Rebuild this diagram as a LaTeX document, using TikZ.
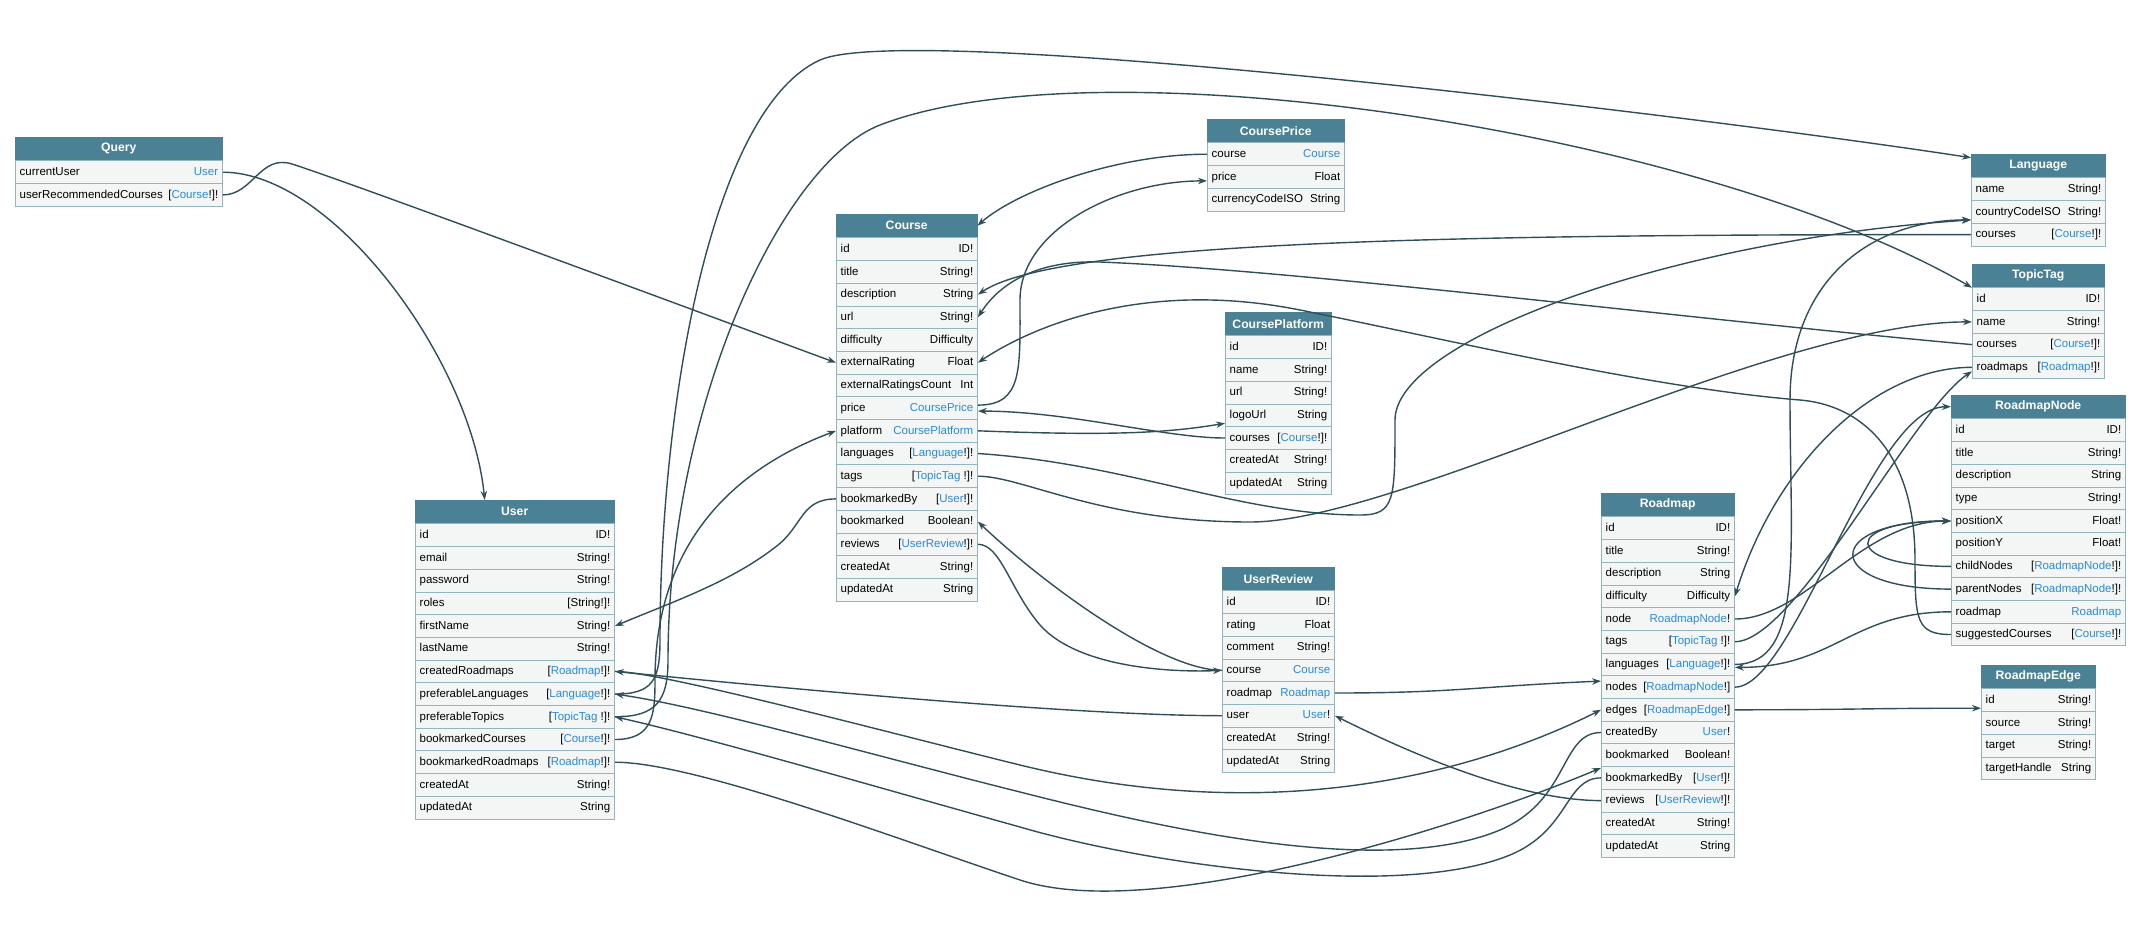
\documentclass[tikz,border=0pt]{standalone}
\usepackage{fontspec}
\setmainfont{Liberation Sans}
\usetikzlibrary{arrows.meta}
\definecolor{headteal}{RGB}{74,129,148}
\definecolor{rowgrey}{RGB}{244,246,246}
\definecolor{rowline}{RGB}{148,180,190}
\definecolor{typeblue}{RGB}{42,138,218}
\definecolor{linkslate}{RGB}{48,78,88}
\newcommand{\ty}[1]{\textcolor{typeblue}{#1}}
% one GraphQL type: name, title, x, y, width, field/type list
\newcommand{\gqltable}[6]{%
  \node[gqlhead, minimum width=#5pt] (#1) at (#3,#4) {#2};
  \foreach \fname/\ftype [count=\i from 0] in {#6} {
    \node[gqlrow, minimum width=#5pt] (#1-\fname) at ([yshift={-\i*22.7pt}]#1.south west) {};
    \node[gqltext, anchor=west] at (#1-\fname.west) {\fname};
    \node[gqltext, anchor=east] at (#1-\fname.east) {\ftype};
  }
}
\begin{document}
\begin{tikzpicture}[x=1pt, y=-1pt,
  gqlhead/.style={anchor=north west, fill=headteal, draw=headteal, text=white, minimum height=23pt, inner sep=0pt, font=\fontsize{12.2}{14}\selectfont\bfseries},
  gqlrow/.style={anchor=north west, fill=rowgrey, draw=rowline, line width=0.9pt, minimum height=22.7pt, inner sep=0pt},
  gqltext/.style={inner xsep=4.5pt, inner ysep=0pt, text height=9pt, text depth=2.5pt, font=\fontsize{11.5}{14}\selectfont},
  link/.style={draw=linkslate, line width=1.4pt, -{Stealth[length=9pt, width=6.5pt]}},
]
\useasboundingbox (0,0) rectangle (2138,935);

\gqltable{Query}{Query}{15}{137}{207}{currentUser/\ty{User}, userRecommendedCourses/{[\ty{Course}!]!}}
\gqltable{Course}{Course}{836}{214}{141}{id/ID!, title/String!, description/String, url/String!, difficulty/Difficulty, externalRating/Float, externalRatingsCount/Int, price/\ty{CoursePrice}, platform/\ty{CoursePlatform}, languages/{[\ty{Language}!]!}, tags/{[\ty{TopicTag} !]!}, bookmarkedBy/{[\ty{User}!]!}, bookmarked/Boolean!, reviews/{[\ty{UserReview}!]!}, createdAt/String!, updatedAt/String}
\gqltable{CoursePrice}{CoursePrice}{1207}{119}{137}{course/\ty{Course}, price/Float, currencyCodeISO/String}
\gqltable{CoursePlatform}{CoursePlatform}{1225}{312}{106}{id/ID!, name/String!, url/String!, logoUrl/String, courses/{[\ty{Course}!]!}, createdAt/String!, updatedAt/String}
\gqltable{User}{User}{415}{500}{199}{id/ID!, email/String!, password/String!, roles/{[String!]!}, firstName/String!, lastName/String!, createdRoadmaps/{[\ty{Roadmap}!]!}, preferableLanguages/{[\ty{Language}!]!}, preferableTopics/{[\ty{TopicTag} !]!}, bookmarkedCourses/{[\ty{Course}!]!}, bookmarkedRoadmaps/{[\ty{Roadmap}!]!}, createdAt/String!, updatedAt/String}
\gqltable{UserReview}{UserReview}{1222}{567}{112}{id/ID!, rating/Float, comment/String!, course/\ty{Course}, roadmap/\ty{Roadmap}, user/{\ty{User}!}, createdAt/String!, updatedAt/String}
\gqltable{Roadmap}{Roadmap}{1601}{493}{133}{id/ID!, title/String!, description/String, difficulty/Difficulty, node/{\ty{RoadmapNode}!}, tags/{[\ty{TopicTag} !]!}, languages/{[\ty{Language}!]!}, nodes/{[\ty{RoadmapNode}!]}, edges/{[\ty{RoadmapEdge}!]}, createdBy/{\ty{User}!}, bookmarked/Boolean!, bookmarkedBy/{[\ty{User}!]!}, reviews/{[\ty{UserReview}!]!}, createdAt/String!, updatedAt/String}
\gqltable{Language}{Language}{1971}{154}{134}{name/String!, countryCodeISO/String!, courses/{[\ty{Course}!]!}}
\gqltable{TopicTag}{TopicTag}{1972}{264}{132}{id/ID!, name/String!, courses/{[\ty{Course}!]!}, roadmaps/{[\ty{Roadmap}!]!}}
\gqltable{RoadmapNode}{RoadmapNode}{1951}{395}{174}{id/ID!, title/String!, description/String, type/String!, positionX/Float!, positionY/Float!, childNodes/{[\ty{RoadmapNode}!]!}, parentNodes/{[\ty{RoadmapNode}!]!}, roadmap/\ty{Roadmap}, suggestedCourses/{[\ty{Course}!]!}}
\gqltable{RoadmapEdge}{RoadmapEdge}{1981}{665}{114}{id/String!, source/String!, target/String!, targetHandle/String}

% Query links
\draw[link] (Query-currentUser.east) .. controls +(110,0) and +(-14,-140) .. ([xshift=-30pt]User.north);
\draw[link] (Query-userRecommendedCourses.east) .. controls +(30,0) and +(-32,-10) .. (292,164) .. controls +(60,19) and +(-60,-22) .. (Course-externalRating.west);

% Course links
\draw[link] ([yshift=3pt]Course-price.east) .. controls +(45,0) and +(0,70) .. (1020,300) .. controls +(0,-70) and +(-90,0) .. ([yshift=-4pt]CoursePrice-price.west);
\draw[link] (CoursePrice-course.west) .. controls +(-90,0) and +(40,-35) .. (Course.east);
\draw[link] (Course-platform.east) .. controls +(130,5) and +(-60,10) .. ([yshift=-8pt]CoursePlatform-logoUrl.west);
\draw[link] (CoursePlatform-courses.west) .. controls +(-60,0) and +(90,0) .. ([yshift=-3pt]Course-price.east);
\draw[link] (Course-languages.east) .. controls +(150,10) and +(-120,0) .. (1360,515) .. controls +(35,0) and +(0,80) .. (1395,420) .. controls +(0,-80) and +(-300,20) .. ([yshift=-8pt]Language-countryCodeISO.west);
\draw[link] (Course-tags.east) .. controls +(45,0) and +(-150,0) .. (1250,522) .. controls +(150,0) and +(-200,0) .. (TopicTag-name.west);
\draw[link] (Course-bookmarkedBy.west) .. controls +(-35,0) and +(25,-20) .. (778,545) .. controls +(-45,36) and +(60,-25) .. (User-firstName.east);
\draw[link] (Course-reviews.east) .. controls +(23,0) and +(-30,-35) .. (1040,625) .. controls +(40,45) and +(-42,2) .. (UserReview-course.west);
\draw[link] (UserReview-course.west) .. controls +(-62,0) and +(63,60) .. (Course-bookmarked.east);

% UserReview links
\draw[link] (UserReview-roadmap.east) .. controls +(120,0) and +(-120,5) .. ([yshift=6pt]Roadmap-nodes.west);
\draw[link] (UserReview-user.west) .. controls +(-150,0) and +(150,15) .. (User-createdRoadmaps.east);

% User links
\draw[link] (User-createdRoadmaps.east) .. controls +(45,0) and +(-130,-32) .. (1020,765) .. controls +(260,64) and +(-120,60) .. (Roadmap-edges.west);
\draw[link] (User-bookmarkedRoadmaps.east) .. controls +(80,0) and +(-120,-40) .. (1020,880) .. controls +(130,43) and +(-150,63) .. ([yshift=10pt]Roadmap-bookmarkedBy.west);
\draw[link] (User-preferableLanguages.east) .. controls +(38,0) and +(0,40) .. (660,640) .. controls +(0,-230) and +(-110,50) .. (820,60) .. controls +(90,-40) and +(-260,-40) .. ([yshift=8pt]Language.west);
\draw[link] (User-preferableTopics.east) .. controls +(42,0) and +(0,40) .. (668,660) .. controls +(0,-250) and +(-100,39) .. (880,125) .. controls +(220,-85) and +(-272,-157) .. ([yshift=-12pt]TopicTag.west);
\draw[link] (User-bookmarkedCourses.east) .. controls +(38,0) and +(0,35) .. (655,680) .. controls +(0,-120) and +(-120,45) .. (Course-platform.west);

% Roadmap links
\draw[link] (Roadmap-createdBy.west) .. controls +(-41,0) and +(70,-30) .. (1500,830) .. controls +(-120,50) and +(130,33) .. (1020,792) .. controls +(-140,-35) and +(86,12) .. (User-preferableLanguages.east);
\draw[link] (Roadmap-bookmarkedBy.west) .. controls +(-36,0) and +(60,-25) .. (1510,855) .. controls +(-110,45) and +(130,38) .. (1020,827) .. controls +(-140,-39) and +(86,19) .. (User-preferableTopics.east);
\draw[link] (Roadmap-reviews.west) .. controls +(-80,0) and +(80,40) .. (UserReview-user.east);
\draw[link] (Roadmap-node.east) .. controls +(70,0) and +(-90,0) .. (RoadmapNode-positionX.west);
\draw[link] (Roadmap-nodes.east) .. controls +(60,0) and +(-80,0) .. (RoadmapNode.west);
\draw[link] (Roadmap-tags.east) .. controls +(60,0) and +(-60,40) .. ([yshift=-4pt]TopicTag-roadmaps.west);
\draw[link] (Roadmap-languages.east) .. controls +(70,0) and +(0,150) .. (1790,400) .. controls +(0,-120) and +(-100,0) .. ([yshift=-8pt]Language-countryCodeISO.west);
\draw[link] (Roadmap-edges.east) .. controls +(120,0) and +(-120,0) .. ([yshift=-8pt]RoadmapEdge-id.west);

% Language / TopicTag links
\draw[link] (Language-courses.west) .. controls +(-470,0) and +(83,-56) .. (Course-description.east);
\draw[link] (TopicTag-courses.west) .. controls +(-270,-24) and +(200,8) .. (1100,262) .. controls +(-60,-2) and +(23,-36) .. (Course-url.east);
\draw[link] (TopicTag-roadmaps.west) .. controls +(-100,0) and +(40,-130) .. (Roadmap-difficulty.east);

% RoadmapNode links
\draw[link] (RoadmapNode-childNodes.west) .. controls +(-110,0) and +(-110,0) .. (RoadmapNode-positionX.west);
\draw[link] (RoadmapNode-parentNodes.west) .. controls +(-130,0) and +(-130,0) .. (RoadmapNode-positionX.west);
\draw[link] (RoadmapNode-roadmap.west) .. controls +(-100,0) and +(100,0) .. ([yshift=-3pt]Roadmap-languages.east);
\draw[link] (RoadmapNode-suggestedCourses.west) .. controls +(-35,0) and +(0,60) .. (1915,560) .. controls +(0,-110) and +(60,5) .. (1800,400) .. controls +(-150,-12) and +(150,30) .. (1300,310) .. controls +(-150,-30) and +(60,-40) .. (Course-externalRating.east);
\end{tikzpicture}
\end{document}
